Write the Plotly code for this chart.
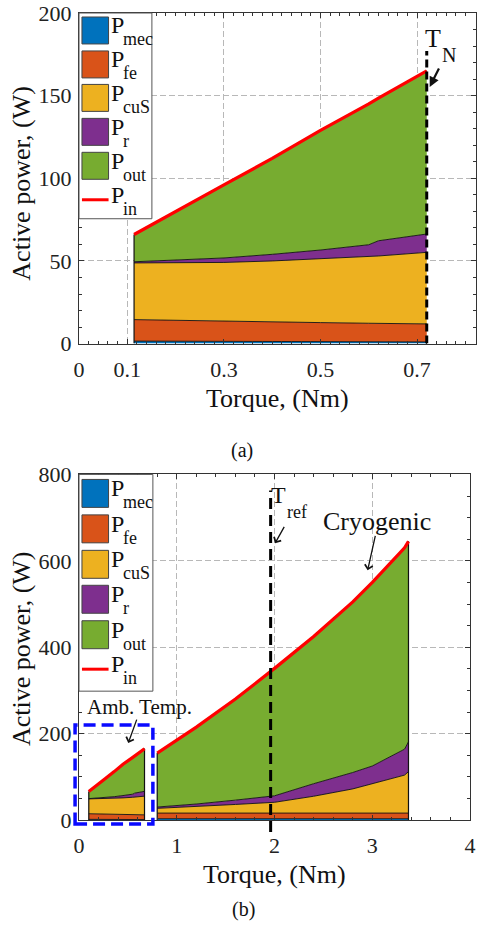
import plotly.graph_objects as go

# ---------------- data ----------------
amb_torque = [0.114, 0.2, 0.3, 0.4, 0.5, 0.6, 0.62, 0.72]
amb_torque_b = [0.10, 0.175, 0.27, 0.36, 0.45, 0.55, 0.57, 0.67]
amb_p_mec = [1.5, 1.5, 1.4, 1.3, 1.2, 1.1, 1.1, 1.0]
amb_p_fe = [13.0, 12.7, 12.2, 11.9, 11.5, 11.2, 11.1, 10.9]
amb_p_cus = [34.3, 34.8, 35.5, 36.8, 38.5, 40.3, 40.8, 43.3]
amb_p_r = [0.7, 1.5, 2.7, 4.0, 5.4, 7.2, 9.2, 11.1]
amb_p_out = [16.5, 29.5, 44.2, 58.0, 72.4, 85.2, 86.3, 98.7]
amb_p_in = [66, 80, 96, 112, 129, 145, 148.5, 165]

cryo_torque = [0.8, 1.2, 1.6, 2.0, 2.4, 2.8, 3.0, 3.2, 3.33, 3.37]
cryo_p_mec = [3, 3, 3, 3, 3, 3, 3, 3, 3, 3]
cryo_p_fe = [13, 13, 13, 13, 13, 13, 13, 13, 13, 13]
cryo_p_cus = [11, 15, 20, 25, 39, 56, 68, 80, 88, 96]
cryo_p_r = [3, 6, 10, 15, 29, 38, 41, 52, 60, 69]
cryo_p_out = [125, 178, 234, 295, 341, 395, 425, 450, 466, 464]
cryo_p_in = [155, 215, 280, 351, 425, 505, 550, 598, 630, 645]

T_N = 0.72
T_ref = 1.96

series_names = ["mec", "fe", "cuS", "r", "out"]
colors = ["#0072BD", "#D95319", "#EDB120", "#7E2F8E", "#77AC30"]

top_xticks = [0, 0.1, 0.3, 0.5, 0.7]
top_xticktext = ["0", "0.1", "0.3", "0.5", "0.7"]

# ---------------- layout helpers ----------------
W, H = 483, 929
ML, MR, MT, MB = 79, 1, 12, 109
PW = W - ML - MR
PH = H - MT - MB
FONT = "Liberation Serif"


def px(x):
    return (x - ML) / PW


def py(y):
    return (H - MB - y) / PH


fig = go.Figure()


def add_stack(xs, comps, xa, ya, group):
    for name, vals, col in zip(series_names, comps, colors):
        fig.add_trace(go.Scatter(
            x=xs, y=vals, xaxis=xa, yaxis=ya, stackgroup=group, mode="lines",
            line=dict(color="#111", width=0.9), fillcolor=col,
            showlegend=False, hoverinfo="skip", name="P" + name))


def add_pin(xs, vals, xa, ya):
    fig.add_trace(go.Scatter(x=xs, y=vals, xaxis=xa, yaxis=ya, mode="lines",
                             line=dict(color="#FF0000", width=3.2),
                             showlegend=False, hoverinfo="skip"))


def add_edge(x, top, xa, ya):
    fig.add_trace(go.Scatter(x=[x, x], y=[0, top], xaxis=xa, yaxis=ya, mode="lines",
                             line=dict(color="#111", width=1.2),
                             showlegend=False, hoverinfo="skip"))


# top panel
add_stack(amb_torque, [amb_p_mec, amb_p_fe, amb_p_cus, amb_p_r, amb_p_out], "x", "y", "a")
add_edge(amb_torque[0], amb_p_in[0], "x", "y")
add_pin(amb_torque, amb_p_in, "x", "y")

# bottom panel
add_stack(amb_torque_b, [amb_p_mec, amb_p_fe, amb_p_cus, amb_p_r, amb_p_out], "x2", "y2", "b")
add_stack(cryo_torque, [cryo_p_mec, cryo_p_fe, cryo_p_cus, cryo_p_r, cryo_p_out], "x2", "y2", "c")
add_edge(amb_torque_b[0], amb_p_in[0], "x2", "y2")
add_edge(amb_torque_b[-1], amb_p_in[-1], "x2", "y2")
add_edge(cryo_torque[0], cryo_p_in[0], "x2", "y2")
add_edge(cryo_torque[-1], cryo_p_in[-1], "x2", "y2")
add_pin(amb_torque_b, amb_p_in, "x2", "y2")
add_pin(cryo_torque, cryo_p_in, "x2", "y2")

axis_common = dict(
    showline=True, linecolor="#333", linewidth=1, mirror="allticks",
    ticks="inside", ticklen=5, tickcolor="#333", tickwidth=1,
    showgrid=True, gridcolor="#b8b8b8", griddash="6px,3px", gridwidth=1,
    zeroline=False, tickfont=dict(family=FONT, size=22, color="#222"),
)

fig.update_layout(
    width=W, height=H,
    margin=dict(l=ML, r=MR, t=MT, b=MB),
    paper_bgcolor="white", plot_bgcolor="white",
    showlegend=False,
    xaxis=dict(axis_common, domain=[0, 1], range=[0, 0.822], anchor="y",
               tickmode="array", tickvals=top_xticks, ticktext=top_xticktext,
               ticklabelstandoff=6,
               minor=dict(dtick=0.02, tick0=0, ticks="inside", ticklen=3,
                          tickcolor="#333", showgrid=False)),
    yaxis=dict(axis_common, domain=[py(343), 1], range=[0, 200], anchor="x",
               dtick=50, ticklabelstandoff=2,
               minor=dict(dtick=10, ticks="inside", ticklen=3,
                          tickcolor="#333", showgrid=False)),
    xaxis2=dict(axis_common, domain=[0, px(476)], range=[0, 4], anchor="y2",
                dtick=1, ticklabelstandoff=6,
                minor=dict(dtick=0.2, ticks="inside", ticklen=3,
                           tickcolor="#333", showgrid=False)),
    yaxis2=dict(axis_common, domain=[0, py(474)], range=[0, 800], anchor="x2",
                dtick=200, ticklabelstandoff=2,
                minor=dict(dtick=50, ticks="inside", ticklen=3,
                           tickcolor="#333", showgrid=False)),
)

shapes = []
annotations = []


def text(xp, yp, s, size, xanchor="center", yanchor="middle", textangle=0, color="#111"):
    annotations.append(dict(x=px(xp), y=py(yp), xref="paper", yref="paper", text=s,
                            showarrow=False, textangle=textangle, borderpad=0,
                            font=dict(family=FONT, size=size, color=color),
                            xanchor=xanchor, yanchor=yanchor))


def arrow(tail, tip, width=1.3, head=4, size=1.2):
    annotations.append(dict(x=px(tip[0]), y=py(tip[1]), xref="paper", yref="paper",
                            ax=tail[0] - tip[0], ay=tail[1] - tip[1],
                            axref="pixel", ayref="pixel", text="", showarrow=True,
                            arrowhead=head, arrowsize=size, arrowwidth=width,
                            arrowcolor="#111"))


# T_N dashed line (top)
shapes.append(dict(type="line", xref="x", yref="y", x0=T_N, x1=T_N, y0=0, y1=177,
                   line=dict(color="black", width=3, dash="8px,4px")))
# T_ref dashed line (bottom)
shapes.append(dict(type="line", xref="x2", yref="paper", x0=T_ref, x1=T_ref,
                   y0=py(832), y1=py(490),
                   line=dict(color="black", width=3, dash="11px,6px")))
# blue dashed box around ambient curve
shapes.append(dict(type="rect", xref="paper", yref="paper",
                   x0=px(75), x1=px(154), y0=py(824), y1=py(725),
                   line=dict(color="#0a0aff", width=3.5, dash="12px,6px")))


def legend(box, centers, line_y, half):
    shapes.append(dict(type="rect", xref="paper", yref="paper",
                       x0=px(box[0]), x1=px(box[1]), y0=py(box[3]), y1=py(box[2]),
                       fillcolor="white", line=dict(color="#555", width=1)))
    for c, col, name in zip(centers, colors, series_names):
        shapes.append(dict(type="rect", xref="paper", yref="paper",
                           x0=px(82), x1=px(109), y0=py(c + half), y1=py(c - half),
                           fillcolor=col, line=dict(color="#444", width=1)))
        text(110, c - 5, "P", 24, xanchor="left")
        text(123, c + 9, name, 18, xanchor="left")
    shapes.append(dict(type="line", xref="paper", yref="paper",
                       x0=px(82), x1=px(109), y0=py(line_y), y1=py(line_y),
                       line=dict(color="#FF0000", width=3)))
    text(110, line_y - 5, "P", 24, xanchor="left")
    text(123, line_y + 9, "in", 18, xanchor="left")


legend((79, 153, 12, 218), [29.5, 63.5, 97, 131, 165], 199, 13.5)
legend((79, 154, 474, 691), [493, 528.5, 564, 599, 634.5], 669, 14)

# axis titles
text(281, 398, "Torque, (Nm)", 26)
text(277, 875, "Torque, (Nm)", 26)
text(21, 182, "Active power, (W)", 26, textangle=-90)
text(20, 648, "Active power, (W)", 26, textangle=-90)
text(244, 450, "(a)", 20)
text(246, 910, "(b)", 20)

# annotations top
text(438, 38, "T", 26)
text(455, 54, "N", 20)
arrow((445, 66), (435, 86), width=2.2, head=2, size=0.9)

# annotations bottom
text(282, 495, "T", 24)
text(300, 512, "ref", 18)
arrow((288, 525), (278, 543))
text(381.5, 521, "Cryogenic", 26)
arrow((380, 534), (372, 570))
text(140, 707, "Amb. Temp.", 21)
arrow((138, 718), (129, 743))

fig.update_layout(shapes=shapes, annotations=annotations)
fig.write_html("out.html")
